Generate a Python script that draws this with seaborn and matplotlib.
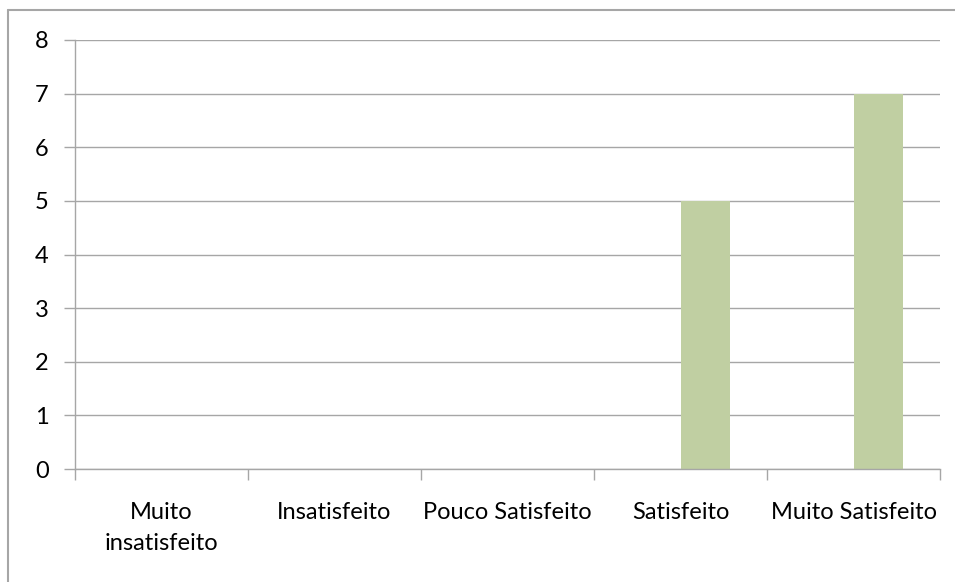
import pandas as pd
import numpy as np
import matplotlib.pyplot as plt
import seaborn as sns
from matplotlib.lines import Line2D

categorias = ["Muito\ninsatisfeito", "Insatisfeito", "Pouco Satisfeito", "Satisfeito", "Muito Satisfeito"]
serie1 = [0, 0, 0, 0, 0]
serie2 = [0, 0, 0, 5, 7]

df = pd.DataFrame({
    "Categoria": categorias * 2,
    "Valor": serie1 + serie2,
    "Serie": ["Série 1"] * 5 + ["Série 2"] * 5,
})

sns.set_style("white")
plt.rcParams["font.family"] = ["Lato", "DejaVu Sans"]

cinza = "#A6A6A6"
verde = "#C3D69B"

fig = plt.figure(figsize=(9.55, 5.82), dpi=100)
ax = fig.add_axes([75 / 955, 1 - 469 / 582, 865 / 955, 429 / 582])

sns.barplot(data=df, x="Categoria", y="Valor", hue="Serie", order=categorias,
            palette=[verde, verde], width=0.578, linewidth=0, legend=False, ax=ax)

ax.set_ylim(0, 8)
ax.set_xlim(-0.5, 4.5)
ax.set_yticks(range(0, 9))
ax.yaxis.grid(True, color=cinza, linewidth=1.0)
ax.set_axisbelow(True)
ax.set_xlabel("")
ax.set_ylabel("")

for s in ["top", "right"]:
    ax.spines[s].set_visible(False)
for s in ["left", "bottom"]:
    ax.spines[s].set_color(cinza)
    ax.spines[s].set_linewidth(1.0)

ax.tick_params(axis="y", length=8, width=1.0, color=cinza, labelsize=17, labelcolor="black", pad=11, left=True)
ax.tick_params(axis="x", which="major", length=0, labelsize=17, labelcolor="black", pad=24)
ax.set_xticks(np.arange(-0.5, 5, 1), minor=True)
ax.tick_params(axis="x", which="minor", length=8, width=1.0, color=cinza, bottom=True)
for lbl in ax.get_xticklabels():
    lbl.set_verticalalignment("top")
    lbl.set_linespacing(1.55)

fig.add_artist(Line2D([8 / 955, 1], [1 - 10 / 582, 1 - 10 / 582], color=cinza, linewidth=1.5))
fig.add_artist(Line2D([8 / 955, 8 / 955], [0, 1 - 10 / 582], color=cinza, linewidth=1.5))

fig.savefig("out.png", dpi=100)
